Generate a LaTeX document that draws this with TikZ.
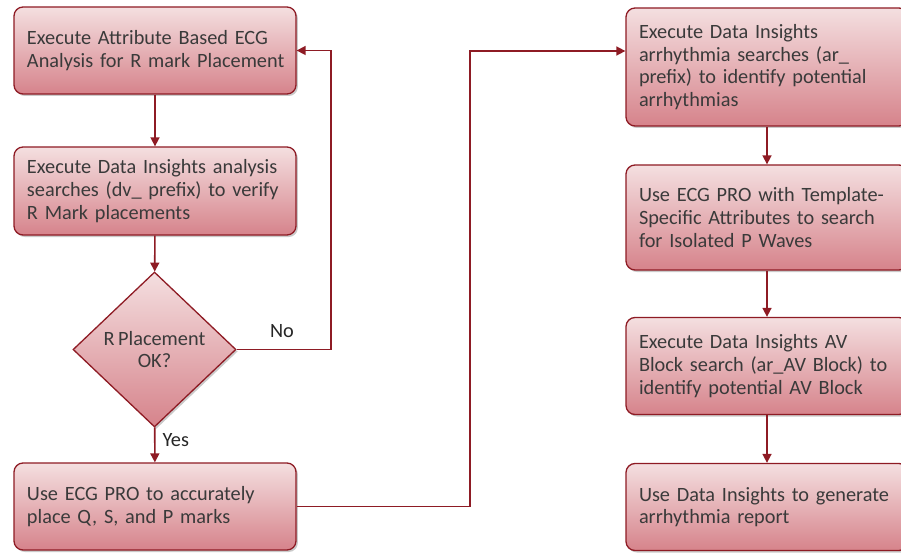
\documentclass[tikz,border=0pt]{standalone}
\usepackage{fontspec}
\setmainfont{Carlito}[WordSpace=0.75]
\usetikzlibrary{shapes.geometric,shadows,arrows.meta}
\definecolor{edge}{HTML}{8E1B24}
\definecolor{topc}{HTML}{F4DFE0}
\definecolor{botc}{HTML}{D6838B}
\definecolor{txt}{HTML}{3A3A3A}
\begin{document}
\begin{tikzpicture}[x=1pt,y=-1pt,
  boxbase/.style={draw=edge, line width=1.3pt, top color=topc, bottom color=botc,
    drop shadow={shadow xshift=1.8pt, shadow yshift=-2pt, opacity=0.35, fill=black!60},
    text=txt, font=\fontsize{20.3}{22.6}\selectfont},
  stepbox/.style={boxbase, rounded corners=9pt, minimum width=282pt, text width=256pt,
    inner xsep=13pt, align=left},
  decbox/.style={boxbase, diamond, minimum width=163pt, minimum height=155pt, inner sep=0pt, align=center},
  conn/.style={draw=edge, line width=1.6pt, -{Triangle[length=9pt,width=9pt]}},
  lab/.style={font=\fontsize{20.3}{22.6}\selectfont, text=black!85}]
\useasboundingbox (0,0) rectangle (901,553);
\node[stepbox, minimum height=87pt] (b1) at (155,50.5) {Execute Attribute Based ECG\\\mbox{Analysis for R mark Placement}};
\node[stepbox, minimum height=88pt] (b2) at (155,191) {\mbox{Execute Data Insights analysis}\\searches (dv\_ prefix) to verify\\R Mark placements};
\node[decbox] (d) at (154.5,349.5) {R Placement\\OK?};
\node[stepbox, minimum height=87pt] (b3) at (155,506.5) {Use ECG PRO to accurately\\place Q, S, and P marks};
\node[stepbox, minimum height=118pt] (r1) at (767,67) {Execute Data Insights\\arrhythmia searches (ar\_\\prefix) to identify potential\\arrhythmias};
\node[stepbox, minimum height=105pt] (r2) at (767,217.5) {Use ECG PRO with Template-\\Specific Attributes to search\\for Isolated P Waves};
\node[stepbox, minimum height=97pt] (r3) at (767,366) {Execute Data Insights AV\\\mbox{Block search (ar\_AV Block) to}\\identify potential AV Block};
\node[stepbox, minimum height=87pt] (r4) at (767,507) {\mbox{Use Data Insights to generate}\\arrhythmia report};
\coordinate (c1) at (331,349.5);
\coordinate (c2) at (470,51);
\draw[conn] (b1) -- (b2);
\draw[conn] (b2) -- (d);
\draw[conn] (d) -- (b3);
\draw[conn] (d.east) -- (c1) |- (b1.east);
\draw[conn] (b3.east) -| (c2) -- (c2 -| r1.west);
\draw[conn] (r1) -- (r2);
\draw[conn] (r2) -- (r3);
\draw[conn] (r3) -- (r4);
\node[lab] (no) at (282,331) {No};
\node[lab, anchor=west] (yes) at (159,440) {Yes};
\end{tikzpicture}
\end{document}
